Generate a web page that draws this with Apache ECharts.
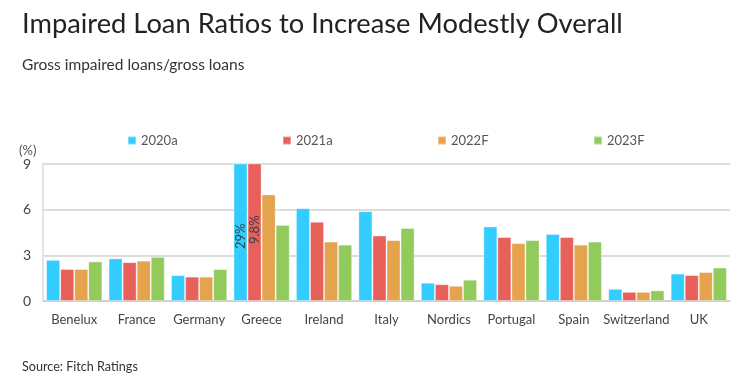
<!DOCTYPE html>
<html>
<head>
<meta charset="utf-8">
<script src="https://cdn.jsdelivr.net/npm/echarts@6/dist/echarts.min.js"></script>
<style>
  html, body { margin: 0; padding: 0; background: #fff; }
  #chart { width: 752px; height: 376px; }
</style>
</head>
<body>
<div id="chart"></div>
<script>
var countries = ['Benelux', 'France', 'Germany', 'Greece', 'Ireland', 'Italy', 'Nordics', 'Portugal', 'Spain', 'Switzerland', 'UK']
var seriesNames = ['2020a', '2021a', '2022F', '2023F']
var colors = ['#33CCFF', '#E8605A', '#E4A34C', '#92CB5C']

// Greece 2020a / 2021a run off the top of the axis (29% and 9.8%)
var v2020a = [2.7, 2.8, 1.7, 29, 6.1, 5.9, 1.2, 4.9, 4.4, 0.8, 1.8]
var v2021a = [2.1, 2.55, 1.6, 9.8, 5.2, 4.3, 1.1, 4.2, 4.2, 0.6, 1.7]
var v2022F = [2.1, 2.65, 1.6, 7.0, 3.9, 4.0, 1.0, 3.8, 3.7, 0.6, 1.9]
var v2023F = [2.6, 2.9, 2.1, 5.0, 3.7, 4.8, 1.4, 4.0, 3.9, 0.7, 2.2]
var yTicks = [0, 3, 6, 9]

var font = 'Lato'
var chart = echarts.init(document.getElementById('chart'))

// label only the two clipped Greece bars
function overflowData(values, dist) {
  return values.map(function (v, i) {
    if (v <= yTicks[yTicks.length - 1]) return v
    return {
      value: v,
      label: {
        show: true,
        position: 'insideBottom',
        distance: dist,
        rotate: 90,
        align: 'left',
        verticalAlign: 'middle',
        formatter: v + '%',
        color: '#2d4651',
        fontFamily: font,
        fontSize: 13
      }
    }
  })
}

var allValues = [v2020a, v2021a, v2022F, v2023F]
var labelDist = [52, 57, 0, 0]
var legendLeft = [122, 277, 432, 588]

chart.setOption({
  textStyle: { fontFamily: font },
  title: [{
    text: 'Impaired Loan Ratios to Increase Modestly Overall',
    left: 17,
    top: 6,
    textStyle: { fontFamily: font, fontSize: 27.3, fontWeight: 'normal', color: '#222' }
  }, {
    text: 'Gross impaired loans/gross loans',
    left: 17,
    top: 52,
    textStyle: { fontFamily: font, fontSize: 15.5, fontWeight: 'normal', color: '#333' }
  }, {
    text: 'Source: Fitch Ratings',
    left: 17,
    top: 355,
    textStyle: { fontFamily: font, fontSize: 12.6, fontWeight: 'normal', color: '#333' }
  }],
  legend: seriesNames.map(function (name, i) {
    return {
      data: [name],
      left: legendLeft[i],
      top: 129,
      icon: 'rect',
      itemWidth: 8,
      itemHeight: 8,
      itemGap: 5,
      selectedMode: false,
      textStyle: { fontFamily: font, fontSize: 13, color: '#555' }
    }
  }),
  graphic: [{
    type: 'text',
    left: 19,
    top: 144,
    style: { text: '(%)', font: '13px Lato', fill: '#555' }
  }],
  grid: { left: 43, right: 22, top: 164, bottom: 75 },
  xAxis: {
    type: 'category',
    data: countries,
    axisLine: { lineStyle: { color: '#ccc', width: 1.5 } },
    axisTick: { show: false },
    axisLabel: { color: '#444', fontSize: 13, margin: 12, interval: 0 }
  },
  yAxis: {
    type: 'value',
    min: 0,
    max: 9,
    interval: 3,
    axisLine: { show: true, lineStyle: { color: '#ddd', width: 1.5 } },
    axisTick: { show: false },
    axisLabel: { color: '#444', fontSize: 14, margin: 12 },
    splitLine: { lineStyle: { color: '#ddd', width: 2 } }
  },
  series: seriesNames.map(function (name, i) {
    return {
      name: name,
      type: 'bar',
      barGap: '0%',
      barCategoryGap: '10%',
      clip: true,
      itemStyle: { color: colors[i], borderColor: 'rgba(255,255,255,0.35)', borderWidth: 1 },
      data: overflowData(allValues[i], labelDist[i])
    }
  })
})
</script>
</body>
</html>
